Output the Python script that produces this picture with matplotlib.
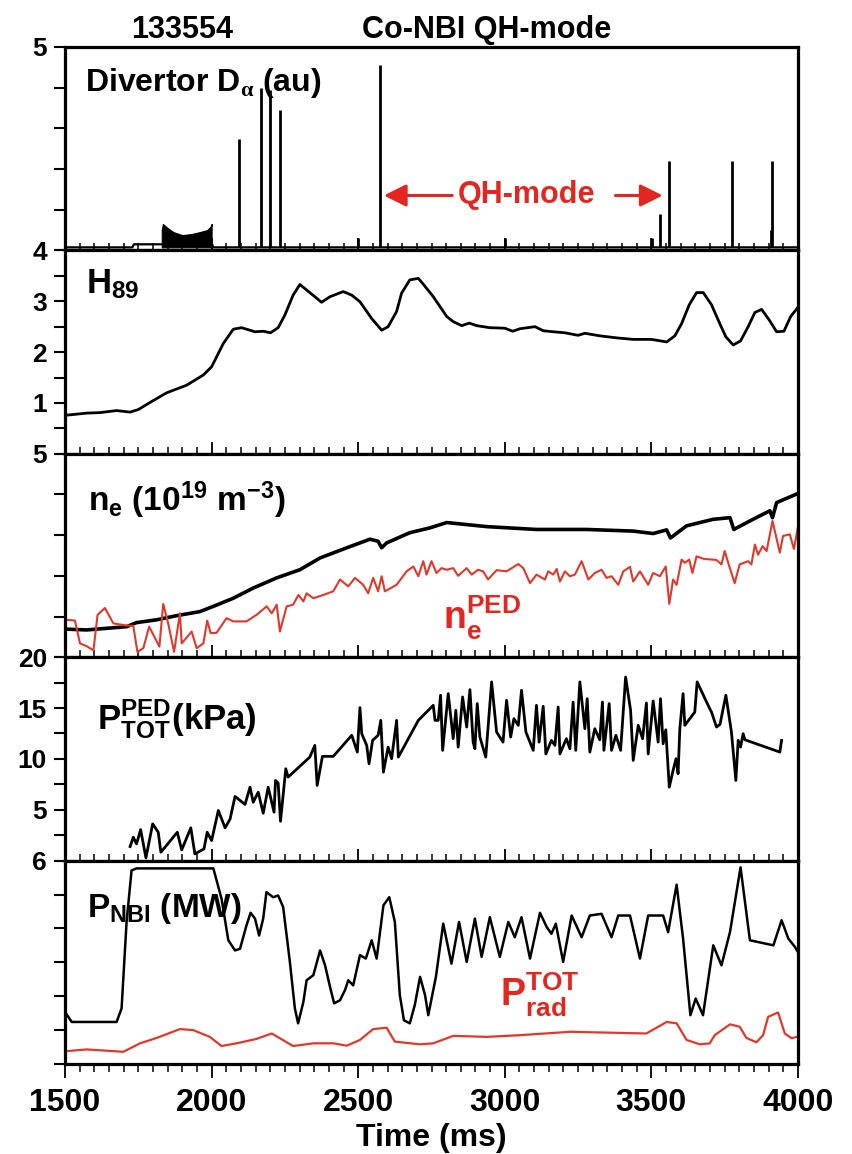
import matplotlib
matplotlib.use('Agg')
import matplotlib.pyplot as plt
from matplotlib.ticker import MultipleLocator, FixedLocator, FixedFormatter

FONT = ['Liberation Sans', 'DejaVu Sans']
plt.rcParams['font.family'] = FONT
plt.rcParams['font.weight'] = 'bold'
plt.rcParams['mathtext.fontset'] = 'custom'
plt.rcParams['mathtext.rm'] = 'Liberation Sans:bold'
plt.rcParams['mathtext.it'] = 'Liberation Sans:bold'
plt.rcParams['mathtext.bf'] = 'Liberation Sans:bold'
plt.rcParams['mathtext.sf'] = 'Liberation Serif'
plt.rcParams['mathtext.default'] = 'rm'

RED = '#e3261f'
RED_LINE = '#e0392b'

# ---- divertor D-alpha (au) ----
da_t = [1500, 1730, 1735, 1828, 2002, 2006, 4000]
da_v = [4.015, 4.015, 4.03, 4.03, 4.03, 4.015, 4.015]
burst_t = [1830, 1834, 1850, 1870, 1900, 1930, 1960, 1985, 1998, 2000]
burst_top = [4.10, 4.13, 4.11, 4.09, 4.075, 4.08, 4.09, 4.10, 4.12, 4.13]
spike_t = [2093, 2167, 2199, 2233, 2500, 2574, 3000, 3502, 3529, 3560, 3775, 3908, 3912]
spike_v = [4.55, 4.80, 4.79, 4.69, 4.06, 4.91, 4.06, 4.06, 4.18, 4.44, 4.44, 4.10, 4.44]

# ---- H89 ----
h89_t = [1506, 1574, 1619, 1676, 1722, 1750, 1796, 1847, 1915, 1972, 2000, 2040, 2074,
         2102, 2148, 2176, 2201, 2227, 2250, 2278, 2301, 2352, 2375, 2404, 2449, 2478,
         2506, 2546, 2580, 2602, 2631, 2648, 2676, 2705, 2720, 2756, 2802, 2824, 2853,
         2879, 2904, 2949, 3000, 3027, 3052, 3103, 3131, 3165, 3205, 3250, 3273, 3324,
         3381, 3438, 3500, 3552, 3580, 3603, 3629, 3654, 3677, 3705, 3734, 3754, 3779,
         3804, 3830, 3853, 3876, 3902, 3927, 3952, 3975, 3997]
h89_v = [0.76, 0.80, 0.81, 0.85, 0.82, 0.87, 1.03, 1.20, 1.35, 1.55, 1.71, 2.17, 2.45,
         2.48, 2.40, 2.41, 2.38, 2.48, 2.73, 3.12, 3.33, 3.09, 2.98, 3.09, 3.19, 3.12,
         2.99, 2.66, 2.43, 2.50, 2.80, 3.16, 3.42, 3.45, 3.35, 3.09, 2.70, 2.60, 2.52,
         2.57, 2.52, 2.48, 2.47, 2.41, 2.46, 2.50, 2.42, 2.40, 2.38, 2.33, 2.37, 2.32,
         2.28, 2.25, 2.25, 2.20, 2.32, 2.56, 2.93, 3.17, 3.17, 2.93, 2.55, 2.30, 2.14,
         2.22, 2.50, 2.78, 2.84, 2.63, 2.40, 2.41, 2.70, 2.86]

# ---- line-averaged density and pedestal density ----
ne_t = [1506, 1574, 1642, 1710, 1744, 1813, 1880, 1960, 2006, 2074, 2142, 2222, 2301,
        2370, 2461, 2540, 2568, 2580, 2597, 2676, 2745, 2802, 2938, 3108, 3279, 3438,
        3506, 3552, 3565, 3620, 3711, 3768, 3781, 3836, 3904, 3913, 3927, 3995]
ne_v = [0.69, 0.67, 0.71, 0.75, 0.85, 0.92, 1.02, 1.12, 1.25, 1.45, 1.70, 1.95, 2.15,
        2.44, 2.69, 2.90, 2.85, 2.69, 2.81, 3.06, 3.18, 3.31, 3.21, 3.14, 3.14, 3.10,
        3.04, 3.13, 2.93, 3.23, 3.39, 3.43, 3.14, 3.35, 3.60, 3.43, 3.80, 4.01]
neped_t = [1506, 1534, 1551, 1574, 1597, 1611, 1636, 1665, 1710, 1733, 1747, 1767, 1787,
           1822, 1835, 1852, 1872, 1892, 1898, 1932, 1949, 1972, 1985, 1997, 2017, 2051,
           2074, 2119, 2153, 2188, 2205, 2222, 2233, 2256, 2278, 2296, 2313, 2324, 2347,
           2381, 2415, 2438, 2466, 2489, 2517, 2534, 2551, 2568, 2580, 2591, 2631, 2665,
           2688, 2705, 2722, 2733, 2750, 2767, 2784, 2802, 2824, 2841, 2870, 2887, 2909,
           2926, 2943, 2972, 3006, 3046, 3063, 3086, 3108, 3137, 3148, 3165, 3177, 3188,
           3205, 3222, 3239, 3262, 3285, 3307, 3330, 3347, 3364, 3387, 3404, 3427, 3438,
           3461, 3489, 3506, 3529, 3549, 3561, 3574, 3586, 3603, 3614, 3629, 3640, 3654,
           3677, 3722, 3739, 3750, 3762, 3784, 3801, 3830, 3841, 3853, 3864, 3879, 3893,
           3913, 3938, 3949, 3972, 3986, 4000]
neped_v = [0.92, 0.90, 0.34, 0.27, 0.17, 1.04, 1.21, 0.83, 0.78, 0.77, 0.13, 0.22, 0.75,
           0.26, 1.31, 0.83, 0.13, 1.08, 0.34, 0.63, 0.22, 0.34, 0.90, 0.59, 0.60, 0.96,
           0.88, 0.88, 1.04, 1.25, 1.08, 1.29, 0.63, 1.25, 1.29, 1.53, 1.37, 1.57, 1.45,
           1.53, 1.62, 1.91, 1.74, 1.95, 1.78, 1.57, 1.95, 1.62, 1.99, 1.62, 1.78, 2.11,
           2.23, 1.99, 2.36, 2.03, 2.36, 2.07, 2.19, 2.15, 2.19, 2.00, 2.19, 2.03, 2.15,
           2.11, 1.91, 2.14, 2.11, 2.29, 2.19, 1.82, 2.03, 1.91, 2.11, 2.03, 2.17, 1.86,
           2.11, 1.99, 2.03, 2.36, 1.91, 2.07, 2.15, 1.95, 1.99, 1.78, 2.11, 2.22, 1.86,
           2.11, 1.78, 2.07, 1.99, 2.23, 1.31, 1.91, 1.78, 2.40, 2.32, 2.40, 2.07, 2.48,
           2.42, 2.39, 2.28, 2.61, 2.32, 1.82, 2.28, 2.36, 2.28, 2.77, 2.52, 2.73, 2.61,
           3.35, 2.57, 2.98, 3.02, 2.66, 3.21]

# ---- total pedestal pressure (kPa) ----
pped_t = [1722, 1733, 1744, 1758, 1776, 1799, 1818, 1827, 1883, 1898, 1929, 1943, 1974,
          1985, 2000, 2023, 2046, 2063, 2080, 2114, 2131, 2142, 2159, 2176, 2193, 2213,
          2218, 2227, 2235, 2253, 2261, 2335, 2352, 2360, 2378, 2415, 2478, 2497, 2506,
          2512, 2529, 2537, 2549, 2568, 2577, 2586, 2602, 2614, 2631, 2637, 2705, 2745,
          2756, 2762, 2773, 2781, 2788, 2807, 2824, 2833, 2841, 2856, 2870, 2881, 2892,
          2898, 2906, 2915, 2935, 2955, 2972, 2994, 3006, 3020, 3031, 3046, 3057, 3072,
          3097, 3108, 3117, 3131, 3140, 3159, 3171, 3182, 3188, 3210, 3222, 3233, 3242,
          3256, 3273, 3281, 3290, 3307, 3324, 3333, 3338, 3356, 3364, 3379, 3395, 3412,
          3429, 3438, 3455, 3470, 3483, 3489, 3506, 3523, 3531, 3540, 3549, 3561, 3574,
          3584, 3591, 3597, 3608, 3614, 3648, 3656, 3699, 3705, 3722, 3734, 3754, 3773,
          3788, 3796, 3804, 3813, 3819, 3938, 3944]
pped_v = [1.38, 2.30, 1.64, 3.05, 0.26, 3.61, 2.79, 0.82, 2.79, 1.05, 3.22, 0.66, 1.15,
          2.79, 1.97, 4.93, 3.22, 4.09, 6.31, 5.52, 7.22, 5.74, 6.73, 4.66, 7.22, 4.76,
          7.88, 7.62, 3.87, 9.03, 8.21, 10.18, 11.33, 7.39, 10.25, 10.25, 12.32, 10.67, 15.04,
          12.48, 11.33, 9.53, 11.82, 12.32, 13.79, 8.70, 11.16, 10.02, 13.79, 10.18, 13.79, 14.95,
          15.27, 13.79, 13.79, 16.26, 10.84, 16.42, 11.99, 14.78, 11.16, 16.09, 13.13, 16.81, 11.65,
          11.00, 15.44, 12.15, 10.18, 17.57, 12.64, 11.65, 15.76, 12.15, 13.96, 13.30, 16.75, 12.64,
          10.84, 15.27, 11.65, 15.17, 10.49, 11.82, 11.33, 15.10, 10.49, 11.99, 11.00, 15.59, 10.84,
          17.57, 12.97, 15.92, 10.67, 12.97, 11.88, 15.59, 10.84, 15.44, 10.84, 12.32, 10.84, 18.05,
          14.78, 9.85, 13.30, 11.99, 15.50, 10.49, 15.69, 11.65, 15.92, 11.49, 12.86, 7.22, 8.87,
          10.02, 8.54, 12.97, 16.42, 13.30, 14.61, 17.57, 14.93, 14.61, 13.13, 13.40, 16.26, 12.64,
          7.88, 11.82, 11.16, 12.48, 11.88, 10.67, 11.82]

# ---- injected neutral beam power and total radiated power (MW) ----
pnbi_t = [1506, 1523, 1676, 1693, 1710, 1727, 1744, 2006, 2034, 2057, 2080, 2097, 2119,
          2133, 2148, 2162, 2176, 2187, 2210, 2227, 2244, 2267, 2284, 2295, 2313, 2324,
          2347, 2370, 2387, 2404, 2418, 2438, 2455, 2466, 2483, 2506, 2526, 2546, 2563,
          2586, 2606, 2625, 2642, 2656, 2676, 2693, 2711, 2728, 2739, 2765, 2790, 2818,
          2844, 2870, 2898, 2921, 2949, 2983, 3012, 3034, 3057, 3086, 3120, 3143, 3159,
          3174, 3199, 3228, 3262, 3290, 3330, 3364, 3387, 3427, 3461, 3489, 3540, 3557,
          3586, 3608, 3633, 3651, 3676, 3711, 3739, 3768, 3804, 3836, 3916, 3944, 3967,
          3989, 4000]
pnbi_v = [1.46, 1.24, 1.24, 1.64, 4.19, 5.71, 5.77, 5.77, 4.87, 3.65, 3.35, 3.40, 4.09,
          4.46, 4.29, 3.79, 4.29, 5.07, 4.92, 4.97, 4.63, 3.01, 1.64, 1.20, 1.83, 2.47,
          2.62, 3.35, 2.91, 2.27, 1.79, 1.88, 2.18, 2.47, 2.32, 3.21, 3.11, 3.65, 3.11,
          4.68, 4.92, 4.19, 2.03, 1.29, 1.20, 1.74, 2.57, 2.03, 1.44, 2.57, 4.14, 2.96,
          4.19, 3.01, 4.29, 3.16, 4.33, 3.16, 4.19, 3.74, 4.33, 3.11, 4.46, 4.04, 3.84,
          4.14, 3.01, 4.38, 3.74, 4.38, 4.43, 3.74, 4.38, 4.38, 3.11, 4.38, 4.38, 3.89,
          5.29, 3.70, 1.44, 1.93, 1.44, 3.50, 2.91, 3.89, 5.80, 3.65, 3.50, 4.24, 3.70,
          3.46, 3.30]
prad_t = [1506, 1574, 1699, 1756, 1813, 1892, 1937, 1994, 2034, 2085, 2153, 2205, 2278,
          2347, 2415, 2461, 2506, 2551, 2597, 2625, 2711, 2756, 2824, 2938, 3052, 3222,
          3483, 3552, 3586, 3620, 3665, 3699, 3716, 3768, 3801, 3824, 3858, 3881, 3898,
          3932, 3955, 3978, 4000]
prad_v = [0.38, 0.43, 0.36, 0.61, 0.77, 1.03, 1.00, 0.80, 0.53, 0.61, 0.74, 0.90, 0.53,
          0.61, 0.61, 0.54, 0.71, 1.03, 1.07, 0.66, 0.58, 0.61, 0.83, 0.80, 0.85, 0.95,
          0.90, 1.24, 1.20, 0.71, 0.58, 0.61, 0.85, 1.17, 1.10, 0.77, 0.64, 0.85, 1.39,
          1.52, 0.90, 0.76, 0.81]

fig, axes = plt.subplots(5, 1, sharex=True, figsize=(8.52, 11.54), dpi=100)
fig.subplots_adjust(left=65 / 852, right=798 / 852, top=1 - 47 / 1154,
                    bottom=1 - 1064 / 1154, hspace=0)
ax1, ax2, ax3, ax4, ax5 = axes

# y ranges, tick step and which ticks get a label
yspec = [
    (ax1, (4, 5), 0.2, {4: '4', 5: '5'}),
    (ax2, (0, 4), 0.5, {1: '1', 2: '2', 3: '3'}),
    (ax3, (0, 5), 1.0, {5: '5'}),
    (ax4, (0, 20), 2.5, {5: '5', 10: '10', 15: '15', 20: '20'}),
    (ax5, (0, 6), 1.0, {6: '6'}),
]
for ax, (lo, hi), step, labels in yspec:
    ax.set_ylim(lo, hi)
    n = int(round((hi - lo) / step))
    ticks = [lo + i * step for i in range(n + 1)]
    ax.yaxis.set_major_locator(FixedLocator(ticks))
    names = []
    for t in ticks:
        key = int(round(t)) if abs(t - round(t)) < 1e-6 else None
        names.append(labels.get(key, '') if key is not None else '')
    ax.yaxis.set_major_formatter(FixedFormatter(names))
    ax.tick_params(axis='y', which='major', direction='out', length=8, width=1.5,
                   labelsize=19, pad=5, left=True, right=False)
    ax.set_xlim(1500, 4000)
    ax.xaxis.set_major_locator(MultipleLocator(500))
    ax.xaxis.set_minor_locator(MultipleLocator(50))
    ax.tick_params(axis='x', which='major', direction='in', length=9, width=1.3,
                   top=False, bottom=True)
    ax.tick_params(axis='x', which='minor', direction='in', length=5, width=1.1,
                   top=False, bottom=True)
    for sp in ax.spines.values():
        sp.set_linewidth(2.3)
    for lab in ax.get_yticklabels():
        lab.set_fontweight('bold')

ax5.tick_params(axis='x', which='both', direction='out', labelsize=23, pad=7)
ax5.tick_params(axis='x', which='major', length=10)
ax5.tick_params(axis='x', which='minor', length=6)
for lab in ax5.get_xticklabels():
    lab.set_fontweight('bold')

# D-alpha
ax1.plot(da_t, da_v, color='k', lw=1.6)
ax1.fill_between(burst_t, 4.015, burst_top, color='k', lw=0.8)
ax1.vlines(spike_t, 4.015, spike_v, color='k', lw=2.0)
ax1.annotate('', xy=(2578, 4.27), xytext=(2830, 4.27),
             arrowprops=dict(arrowstyle='-|>', color=RED, lw=2.2, mutation_scale=34))
ax1.annotate('', xy=(3548, 4.27), xytext=(3368, 4.27),
             arrowprops=dict(arrowstyle='-|>', color=RED, lw=2.2, mutation_scale=34))
ax1.text(3075, 4.27, 'QH-mode', color=RED, fontsize=22, ha='center', va='center')
ax1.text(0.027, 0.785, r'Divertor D$_{\mathsf{\alpha}}$ (au)', transform=ax1.transAxes,
         fontsize=23, va='baseline')

# H89
ax2.plot(h89_t, h89_v, color='k', lw=2.0)
ax2.text(0.029, 0.788, r'H$_{89}$', transform=ax2.transAxes, fontsize=25, va='baseline')

# density
ax3.plot(ne_t, ne_v, color='k', lw=2.6)
ax3.plot(neped_t, neped_v, color=RED_LINE, lw=1.5)
ax3.text(0.031, 0.72, r'n$_e$ (10$^{19}$ m$^{-3}$)', transform=ax3.transAxes,
         fontsize=24, va='baseline')
ax3.text(0.516, 0.134, r'n$_e^{PED}$', transform=ax3.transAxes, color=RED,
         fontsize=27, va='baseline')

# pedestal pressure
ax4.plot(pped_t, pped_v, color='k', lw=2.0)
ax4.text(0.043, 0.645, r'P$_{TOT}^{PED}$(kPa)', transform=ax4.transAxes,
         fontsize=25, va='baseline')

# heating and radiated power
ax5.plot(pnbi_t, pnbi_v, color='k', lw=1.8)
ax5.plot(prad_t, prad_v, color=RED_LINE, lw=1.6)
ax5.text(0.03, 0.722, r'P$_{NBI}$ (MW)', transform=ax5.transAxes, fontsize=24,
         va='baseline')
ax5.text(0.593, 0.281, r'P$_{rad}^{TOT}$', transform=ax5.transAxes, color=RED,
         fontsize=27, va='baseline')

fig.text(182 / 852, 1 - 38 / 1154, '133554', fontsize=22, ha='center', va='baseline')
fig.text(487 / 852, 1 - 38 / 1154, 'Co-NBI QH-mode', fontsize=22, ha='center',
         va='baseline')
fig.text(431 / 852, 1 - 1146 / 1154, 'Time (ms)', fontsize=23, ha='center',
         va='baseline')

fig.savefig('out.png', dpi=100)
